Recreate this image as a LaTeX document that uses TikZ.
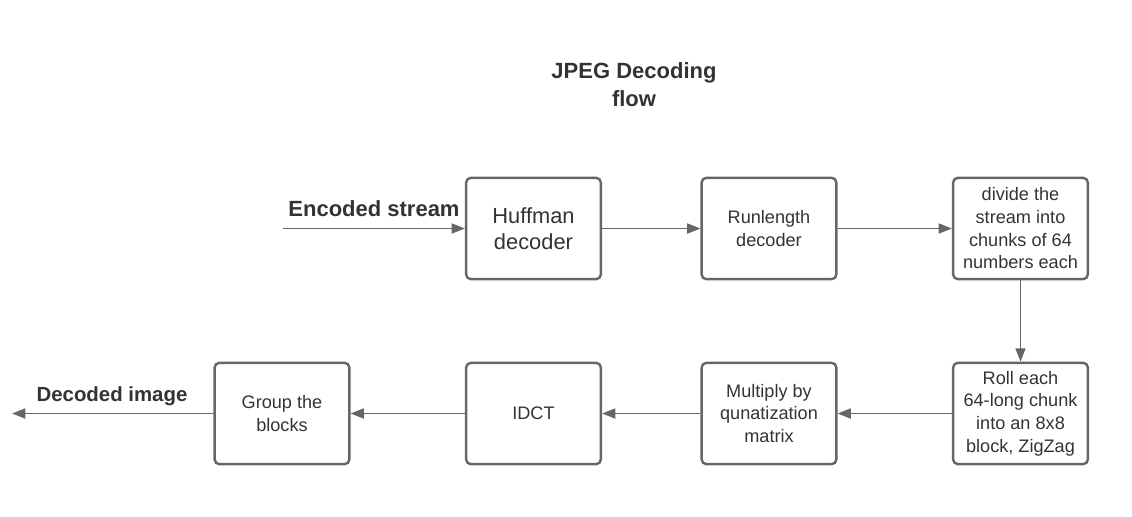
\documentclass[tikz,border=0pt]{standalone}
\usepackage{fontspec}
\setmainfont{Liberation Sans}
\usetikzlibrary{arrows.meta}

\definecolor{linegray}{HTML}{666666}
\definecolor{textgray}{HTML}{333333}

\begin{document}
\begin{tikzpicture}[
  x=0.75pt,y=-0.75pt,
  block/.style={rectangle,draw=linegray,line width=1.8pt,rounded corners=3.5pt,minimum width=101pt,minimum height=76pt,align=center,text=textgray,inner sep=2pt,font=\fontsize{13.6}{17}\selectfont},
  flow/.style={draw=linegray,line width=1.3pt,-{Triangle[length=10pt,width=7.5pt]}},
  heading/.style={text=textgray,align=center,font=\bfseries\fontsize{16.5}{21}\selectfont}
]

\useasboundingbox (0,0) rectangle (1132,517);

\node[heading] (title) at (634,85) {JPEG Decoding\\flow};

% top row
\node[block,font=\fontsize{16.4}{19.5}\selectfont] (huff) at (533.5,228.5) {Huffman\\decoder};
\node[block] (runl) at (769,228.5) {Runlength\\decoder};
\node[block] (divide) at (1020.5,228.5) {divide the\\stream into\\chunks of 64\\numbers each};

% bottom row
\node[block] (roll) at (1020.5,413.5) {Roll each\\64-long chunk\\into an 8x8\\block, ZigZag};
\node[block] (mult) at (769,413.5) {Multiply by\\qunatization\\matrix};
\node[block] (idct) at (533.5,413.5) {IDCT};
\node[block] (group) at (282,413.5) {Group the\\blocks};

% stream in and image out
\coordinate (instart) at (283,228.5);
\coordinate (outend) at (12,413.5);
\node[heading] (inlabel) at (374,209) {Encoded stream};
\node[heading,font=\bfseries\fontsize{15.3}{19}\selectfont] (outlabel) at (112,396.5) {Decoded image};

\draw[flow] (instart) -- (huff);
\foreach \a/\b in {huff/runl,runl/divide,divide/roll,roll/mult,mult/idct,idct/group}
  \draw[flow] (\a) -- (\b);
\draw[flow] (group) -- (outend);

\end{tikzpicture}
\end{document}
